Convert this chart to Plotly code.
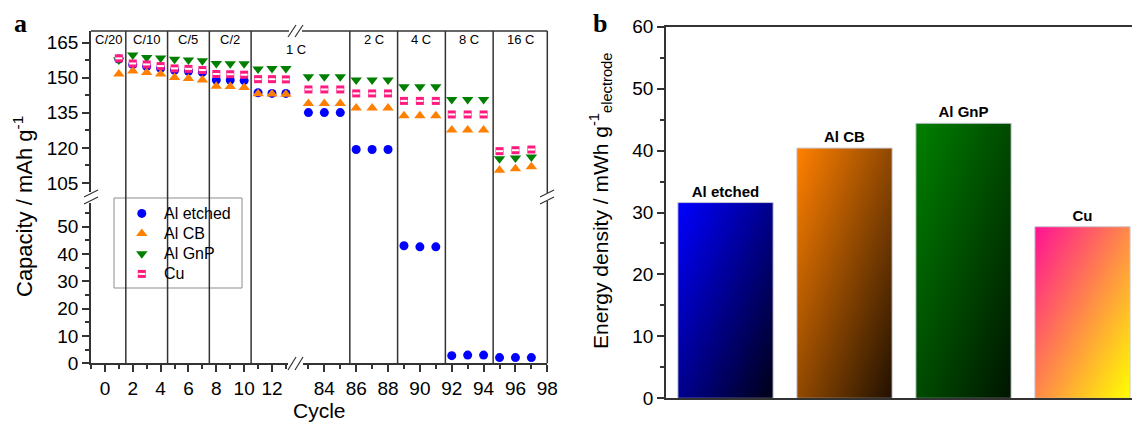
import base64, struct, zlib
import plotly.graph_objects as go

W, H = 1132, 423
def fx(p): return p / W
def fy(p): return 1 - p / H

# ---------------- data: panel a ----------------
cycles = [1, 2, 3, 4, 5, 6, 7, 8, 9, 10, 11, 12, 13,
          83, 84, 85, 86, 87, 88, 89, 90, 91, 92, 93, 94, 95, 96, 97]
al_etched = [158.0, 155.6, 154.8, 154.0, 153.2, 152.8, 152.3, 149.0, 149.0, 148.8, 143.6, 143.3, 143.3,
             135.1, 135.1, 135.1, 119.3, 119.3, 119.3, 43.0, 42.6, 42.6, 2.8, 3.0, 3.0, 2.1, 2.1, 2.1]
al_cb = [151.6, 152.9, 152.3, 151.6, 150.1, 149.7, 149.0, 146.4, 146.3, 145.8, 143.2, 143.0, 142.9,
         139.0, 139.0, 139.0, 137.1, 137.1, 137.1, 133.7, 133.7, 133.7, 127.6, 127.6, 127.6, 110.4, 111.1, 111.9]
al_gnp = [157.6, 159.7, 158.7, 158.5, 157.9, 157.6, 157.3, 156.1, 156.0, 156.0, 153.7, 154.0, 154.0,
          150.4, 150.4, 150.4, 149.0, 149.0, 149.0, 146.1, 146.1, 146.1, 140.7, 140.7, 140.7, 115.4, 115.7, 116.1]
cu = [158.3, 156.1, 155.7, 155.0, 154.0, 153.8, 153.3, 151.6, 151.5, 151.3, 149.4, 149.4, 149.3,
      145.0, 145.0, 145.0, 143.3, 143.3, 143.3, 140.1, 140.1, 140.1, 134.3, 134.3, 134.3, 118.6, 119.0, 119.3]

rate_labels = ["C/20", "C/10", "C/5", "C/2", "2 C", "4 C", "8 C", "16 C"]
rate_label_x = [0.25, 3.0, 6.0, 9.0, 87.1, 90.1, 93.1, 96.3]
separators_left = [1.5, 4.5, 7.5, 10.5]
separators_right = [85.6, 88.6, 91.6, 94.6]

# ---------------- data: panel b ----------------
electrodes = ["Al etched", "Al CB", "Al GnP", "Cu"]
energy_density = [31.6, 40.4, 44.4, 27.7]
grad_start = [(0, 0, 255), (255, 128, 0), (0, 128, 0), (255, 20, 147)]
grad_end = [(0, 0, 25), (35, 18, 0), (0, 22, 0), (255, 255, 0)]

FONT = "Liberation Sans, Arial, sans-serif"
AXC = "#333333"

def gradient_png(c0, c1, w=48, h=96):
    raw = bytearray()
    for j in range(h):
        raw.append(0)
        for i in range(w):
            t = (i / (w - 1) + j / (h - 1)) / 2
            raw += bytes(int(round(a + (b - a) * t)) for a, b in zip(c0, c1))
    def chunk(tag, data):
        return struct.pack(">I", len(data)) + tag + data + struct.pack(">I", zlib.crc32(tag + data) & 0xffffffff)
    png = (b"\x89PNG\r\n\x1a\n" + chunk(b"IHDR", struct.pack(">IIBBBBB", w, h, 8, 2, 0, 0, 0))
           + chunk(b"IDAT", zlib.compress(bytes(raw))) + chunk(b"IEND", b""))
    return "data:image/png;base64," + base64.b64encode(png).decode()

fig = go.Figure()

series = [("Al etched", al_etched, "circle", "#0000FF", 9),
          ("Al CB", al_cb, "triangle-up", "#FF8000", 10),
          ("Al GnP", al_gnp, "triangle-down", "#007F00", 10),
          ("Cu", cu, "square", "#FF1A80", 8)]

def add_cu_stripe(xs, ys, xa, ya):
    fig.add_trace(go.Scatter(x=xs, y=ys, mode="markers", showlegend=False, xaxis=xa, yaxis=ya,
                             cliponaxis=False, hoverinfo="skip",
                             marker=dict(symbol="line-ew", size=5, line=dict(color="white", width=2))))

for name, vals, sym, col, sz in series:
    for xa in ("x", "x2"):
        for ya, vlo, vhi in (("y", -1, 80), ("y2", 80, 300)):
            sel = [(c, v) for c, v in zip(cycles, vals) if (c < 50) == (xa == "x") and vlo < v <= vhi]
            if not sel:
                continue
            xs = [c for c, _ in sel]
            ys = [v for _, v in sel]
            fig.add_trace(go.Scatter(x=xs, y=ys, mode="markers", name=name, showlegend=False,
                                     xaxis=xa, yaxis=ya, cliponaxis=False,
                                     marker=dict(symbol=sym, color=col, size=sz, line=dict(width=0))))
            if name == "Cu":
                add_cu_stripe(xs, ys, xa, ya)

# legend (markers drawn on their own small axes inside the box)
leg_rows = [3.5, 2.5, 1.5, 0.5]
LEG_Y0, LEG_Y1 = 284.0, 203.3          # pixel extent of legend axes
for (name, vals, sym, col, sz), r in zip(series, leg_rows):
    fig.add_trace(go.Scatter(x=[0.5], y=[r], mode="markers", showlegend=False, xaxis="x4", yaxis="y4",
                             cliponaxis=False, hoverinfo="skip",
                             marker=dict(symbol=sym, color=col, size=sz, line=dict(width=0))))
    if name == "Cu":
        add_cu_stripe([0.5], [r], "x4", "y4")

# panel b bars
idx = list(range(len(electrodes)))
fig.add_trace(go.Bar(x=idx, y=energy_density, width=0.8, xaxis="x3", yaxis="y3", showlegend=False,
                     marker=dict(color="rgba(0,0,0,0)", line=dict(color="rgba(200,200,210,0.9)", width=1)),
                     text=electrodes, texttemplate="<b>%{text}</b>", textposition="outside",
                     textfont=dict(size=15, color="black", family=FONT), cliponaxis=False))

images = []
for i, v in enumerate(energy_density):
    images.append(dict(source=gradient_png(grad_start[i], grad_end[i]), xref="x3", yref="y3",
                       x=i - 0.4, y=v, sizex=0.8, sizey=v, sizing="stretch",
                       xanchor="left", yanchor="top", layer="below"))

common = dict(showgrid=False, zeroline=False, showline=True, linecolor=AXC, linewidth=1.5,
              ticks="outside", ticklen=7, tickwidth=1.5, tickcolor=AXC, automargin=False,
              tickfont=dict(size=19, color="black", family=FONT))

shapes = []
def pline(x0, y0, x1, y1, w=1.5, c=AXC):
    shapes.append(dict(type="line", xref="paper", yref="paper", x0=fx(x0), y0=fy(y0), x1=fx(x1), y1=fy(y1),
                       line=dict(color=c, width=w)))

for s in separators_left:
    shapes.append(dict(type="line", xref="x", yref="paper", x0=s, x1=s, y0=fy(363.3), y1=fy(31),
                       line=dict(color=AXC, width=1.5)))
for s in separators_right:
    shapes.append(dict(type="line", xref="x2", yref="paper", x0=s, x1=s, y0=fy(363.3), y1=fy(31),
                       line=dict(color=AXC, width=1.5)))
# frame (top & right) with breaks
pline(91, 31, 289, 31)
pline(302, 31, 547.3, 31)
pline(547.3, 31, 547.3, 193)
pline(547.3, 201, 547.3, 363.3)
# break marks
pline(288, 37, 296, 25, 1.2); pline(295, 37, 303, 25, 1.2)
pline(288, 370, 296, 357, 1.2); pline(295, 370, 303, 357, 1.2)
pline(84, 197, 98, 190, 1.2); pline(84, 204, 98, 197, 1.2)
pline(540, 197, 554, 190, 1.2); pline(540, 204, 554, 197, 1.2)
# legend box
shapes.append(dict(type="rect", xref="paper", yref="paper", x0=fx(114), x1=fx(242), y0=fy(288), y1=fy(198),
                   line=dict(color="#8c8c8c", width=1), fillcolor="white", layer="below"))

annotations = []
for lab, xv in zip(rate_labels, rate_label_x):
    ax = "x" if xv < 50 else "x2"
    annotations.append(dict(text=lab, xref=ax, yref="paper", x=xv, y=fy(39), showarrow=False,
                            xanchor="center", yanchor="middle", font=dict(size=13, color="black", family=FONT)))
annotations.append(dict(text="1 C", xref="paper", yref="paper", x=fx(296), y=fy(49), showarrow=False,
                        xanchor="center", yanchor="middle", font=dict(size=13, color="black", family=FONT)))
for (name, *_), r in zip(series, leg_rows):
    ypx = LEG_Y0 - (LEG_Y0 - LEG_Y1) * r / 4
    annotations.append(dict(text=name, xref="paper", yref="paper", x=fx(162), y=fy(ypx), showarrow=False,
                            xanchor="left", yanchor="middle", font=dict(size=16, color="black", family=FONT)))
annotations += [
    dict(text="<b>a</b>", xref="paper", yref="paper", x=fx(20), y=fy(24), showarrow=False,
         xanchor="center", yanchor="middle",
         font=dict(size=26, family="Liberation Serif, Times New Roman, serif", color="black")),
    dict(text="<b>b</b>", xref="paper", yref="paper", x=fx(600), y=fy(24), showarrow=False,
         xanchor="center", yanchor="middle",
         font=dict(size=26, family="Liberation Serif, Times New Roman, serif", color="black")),
    dict(text="Capacity / mAh g<sup>-1</sup>", xref="paper", yref="paper", x=fx(23), y=fy(207),
         xanchor="center", yanchor="middle",
         textangle=-90, showarrow=False, font=dict(size=22, color="black", family=FONT)),
    dict(text="Cycle", xref="paper", yref="paper", x=fx(319), y=fy(410), showarrow=False,
         xanchor="center", yanchor="middle", font=dict(size=21, color="black", family=FONT)),
    dict(text="Energy density / mWh g<sup>-1</sup><sub>electrode</sub>", xref="paper", yref="paper",
         x=fx(600), y=fy(201), xanchor="center", yanchor="middle",
         textangle=-90, showarrow=False, font=dict(size=21, color="black", family=FONT)),
]

fig.update_layout(
    width=W, height=H, margin=dict(l=0, r=0, t=0, b=0, autoexpand=False),
    paper_bgcolor="white", plot_bgcolor="rgba(0,0,0,0)", showlegend=False,
    font=dict(family=FONT, color="black"),
    xaxis=dict(domain=[fx(91), fx(288)], range=[-1, 13.15], anchor="y", dtick=2, tick0=0,
               minor=dict(dtick=1, tick0=0, ticks="outside", ticklen=4, tickcolor=AXC), **common),
    xaxis2=dict(domain=[fx(303), fx(547.3)], range=[82.66, 98], anchor="y", dtick=2, tick0=0,
                minor=dict(dtick=1, tick0=0, ticks="outside", ticklen=4, tickcolor=AXC), **common),
    yaxis=dict(domain=[fy(363.3), fy(203.4)], range=[0, 58.5], anchor="x", dtick=10, tick0=0,
               minor=dict(dtick=5, tick0=0, ticks="outside", ticklen=4, tickcolor=AXC), **common),
    yaxis2=dict(domain=[fy(192.3), fy(31)], range=[101, 170], anchor="x",
                tickmode="array", tickvals=[105, 120, 135, 150, 165],
                minor=dict(tickmode="array", tickvals=[112.5, 127.5, 142.5, 157.5],
                           ticks="outside", ticklen=4, tickcolor=AXC), **common),
    xaxis3=dict(domain=[fx(666), 1], range=[-0.5, 3.416], anchor="y3", showgrid=False, zeroline=False,
                automargin=False, showline=True, mirror=True, linecolor=AXC, linewidth=1.5,
                ticks="", showticklabels=False),
    yaxis3=dict(domain=[fy(398.3), fy(26.7)], range=[0, 60], anchor="x3", dtick=10, tick0=0,
                minor=dict(dtick=5, tick0=0, ticks="outside", ticklen=4, tickcolor=AXC), **common),
    xaxis4=dict(domain=[fx(127.3), fx(156.3)], range=[0, 1], anchor="y4", visible=False, automargin=False),
    yaxis4=dict(domain=[fy(LEG_Y0), fy(LEG_Y1)], range=[0, 4], anchor="x4", visible=False, automargin=False),
    shapes=shapes, annotations=annotations, images=images,
)

fig.write_html("out.html")
